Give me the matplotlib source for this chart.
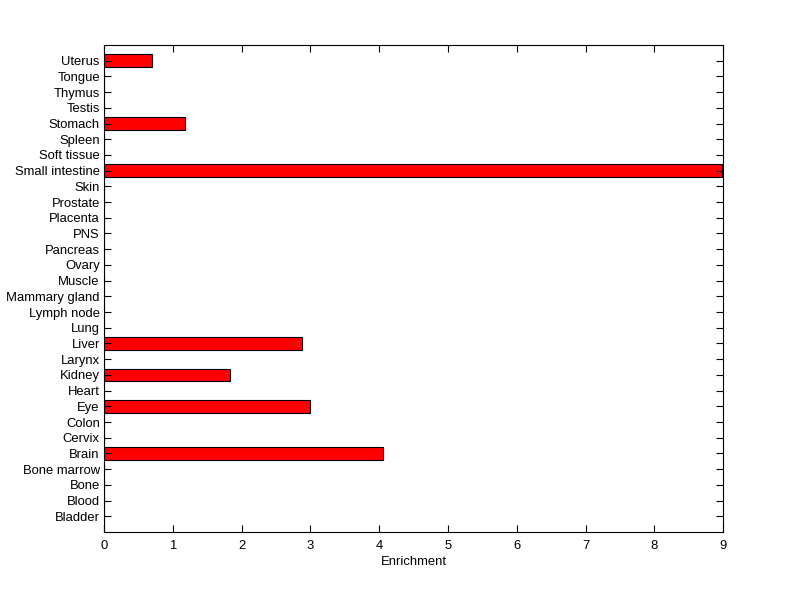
import matplotlib
matplotlib.use("Agg")
import matplotlib.pyplot as plt
import numpy as np

tissues = ["Bladder", "Blood", "Bone", "Bone marrow", "Brain", "Cervix", "Colon",
           "Eye", "Heart", "Kidney", "Larynx", "Liver", "Lung", "Lymph node",
           "Mammary gland", "Muscle", "Ovary", "Pancreas", "PNS", "Placenta",
           "Prostate", "Skin", "Small intestine", "Soft tissue", "Spleen",
           "Stomach", "Testis", "Thymus", "Tongue", "Uterus"]
enrichment = [0, 0, 0, 0, 4.05, 0, 0,
              2.99, 0, 1.83, 0, 2.88, 0, 0,
              0, 0, 0, 0, 0, 0,
              0, 0, 8.98, 0, 0,
              1.18, 0, 0, 0, 0.70]

plt.rcParams['font.family'] = ['Liberation Sans', 'DejaVu Sans']

fig = plt.figure(figsize=(8, 5.99), dpi=100)
ax = fig.add_axes([0.13, 0.1119, 0.774, 0.813])

y = np.arange(1, len(tissues) + 1)
ax.barh(y, enrichment, height=0.8, color="red", edgecolor="black", linewidth=0.8)

ax.set_xlim(0, 9)
ax.set_ylim(0, len(tissues) + 1)
ax.set_xticks(range(10))
ax.set_yticks(y)
ax.set_yticklabels(tissues)
ax.set_xlabel("Enrichment", fontsize=9.4, labelpad=3)
ax.tick_params(direction="in", length=5, width=0.8, labelsize=9.4,
               top=True, right=True)
ax.tick_params(axis="y", pad=3)
ax.tick_params(axis="x", pad=6)
for s in ax.spines.values():
    s.set_linewidth(0.8)

fig.savefig("out.png", dpi=100)
